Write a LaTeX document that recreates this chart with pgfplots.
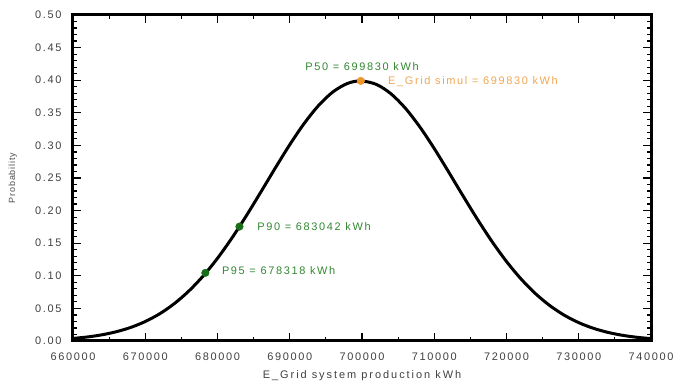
\documentclass[border=0pt]{standalone}
\usepackage{pgfplots}
\pgfplotsset{compat=1.18}
\usepackage{fontspec}
\setmainfont{Liberation Sans}[LetterSpace=10]
\newfontfamily\tickfont{Liberation Sans}[LetterSpace=15]
\newfontfamily\annfont{Liberation Sans}[LetterSpace=15]
\newfontfamily\xlabfont{Liberation Sans}[LetterSpace=18]
\definecolor{pgreen}{RGB}{50,135,50}
\definecolor{mgreen}{RGB}{25,110,25}
\definecolor{porange}{RGB}{240,150,40}
\definecolor{lorange}{RGB}{240,165,80}
\begin{document}
\begin{tikzpicture}
\begin{axis}[
  scale only axis, width=578bp, height=326bp,
  xmin=660000, xmax=740000, ymin=0, ymax=0.5,
  xtick={660000,670000,680000,690000,700000,710000,720000,730000,740000},
  minor x tick num=1,
  ytick={0,0.05,0.1,0.15,0.2,0.25,0.3,0.35,0.4,0.45,0.5},
  minor y tick num=4,
  tick align=inside, major tick length=8bp, minor tick length=4bp,
  separate axis lines,
  axis line style={line width=3bp, line cap=rect},
  every tick/.style={line width=1.2bp, black},
  scaled x ticks=false, scaled y ticks=false,
  xticklabel style={/pgf/number format/fixed, /pgf/number format/1000 sep={}, /pgf/number format/precision=0, yshift=-8.5bp},
  yticklabel style={/pgf/number format/fixed, /pgf/number format/fixed zerofill, /pgf/number format/precision=2, xshift=-8bp},
  /pgf/number format/assume math mode=true,
  ticklabel style={font=\tickfont\fontsize{11}{12}\selectfont, text=black!75},
  xlabel={E\_Grid system production kWh},
  ylabel={Probability},
  xlabel style={font=\xlabfont\fontsize{11}{12}\selectfont, text=black!75, at={(axis description cs:0.5,-0.107)}, anchor=center},
  ylabel style={font=\fontsize{9}{10}\selectfont, text=black!70, at={(axis description cs:-0.104,0.5)}, anchor=center},
  clip=false,
]
\addplot[black, line width=3bp, smooth] coordinates {
(660000,0.00393) (662000,0.00617) (664000,0.00947) (666000,0.01421) (668000,0.02084)
(670000,0.02985) (672000,0.04176) (674000,0.05710) (676000,0.07627) (678000,0.09951)
(680000,0.12687) (682000,0.15798) (684000,0.19223) (686000,0.22850) (688000,0.26535)
(690000,0.30105) (692000,0.33369) (694000,0.36133) (696000,0.38225) (698000,0.39507)
(699830,0.39894) (702000,0.39350) (704000,0.37923) (706000,0.35706) (708000,0.32843)
(710000,0.29516) (712000,0.25911) (714000,0.22226) (716000,0.18624) (718000,0.15246)
(720000,0.12194) (722000,0.09528) (724000,0.07273) (726000,0.05424) (728000,0.03952)
(730000,0.02812) (732000,0.01956) (734000,0.01329) (736000,0.00882) (738000,0.00572)
(740000,0.00362)
};
\addplot[only marks, mark=*, mark size=3.8bp, mgreen] coordinates {(678318,0.1045) (683042,0.1755)};
\addplot[only marks, mark=*, mark size=3.8bp, porange] coordinates {(699830,0.3989)};
\node[text=pgreen, font=\annfont\fontsize{11}{12}\selectfont, anchor=center] at (axis cs:700000,0.421) {P50 = 699830 kWh};
\node[text=lorange, font=\annfont\fontsize{11}{12}\selectfont, anchor=west, inner sep=0pt] at (axis cs:703600,0.398) {E\_Grid simul = 699830 kWh};
\node[text=pgreen, font=\annfont\fontsize{11}{12}\selectfont, anchor=west, inner sep=0pt] at (axis cs:685500,0.175) {P90 = 683042 kWh};
\node[text=pgreen, font=\annfont\fontsize{11}{12}\selectfont, anchor=west, inner sep=0pt] at (axis cs:680600,0.108) {P95 = 678318 kWh};
\end{axis}
\pgfresetboundingbox
\path[use as bounding box] ([xshift=-73bp,yshift=-42bp]current axis.south west) rectangle ([xshift=22bp,yshift=15bp]current axis.north east);
\end{tikzpicture}
\end{document}
